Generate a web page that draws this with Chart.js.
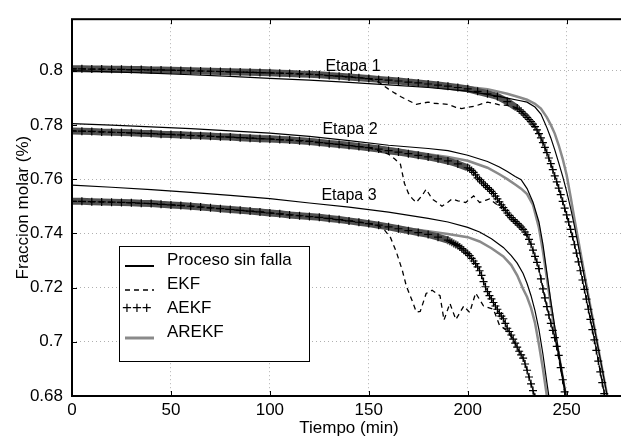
<!DOCTYPE html>
<html>
<head>
<meta charset="utf-8">
<script src="https://cdn.jsdelivr.net/npm/chart.js"></script>
<style>
  html, body { margin: 0; padding: 0; background: #fff; overflow: hidden; }
  canvas { display: block; }
</style>
</head>
<body>
<canvas id="grafico" width="632" height="443"></canvas>
<script>
// Ejes
const ticksX = [0, 50, 100, 150, 200, 250];
const ticksY = [0.68, 0.70, 0.72, 0.74, 0.76, 0.78, 0.80];

// Etiquetas de las etapas
const etiquetas = ['Etapa 1', 'Etapa 2', 'Etapa 3'];
const etiquetaT = [142, 140.5, 140];
const etiquetaV = [0.8014, 0.7782, 0.7539];

// ---- Etapa 1 ----
const tiempo1 = [0, 20, 40, 60, 80, 100, 120, 140, 160, 180, 200, 210, 220, 226, 230, 234, 237, 240, 242, 244, 246, 248, 250, 252, 254, 256, 258, 260, 262, 264, 266, 268, 270, 272];
const sinFalla1 = [0.8000, 0.7996, 0.7991, 0.7985, 0.7979, 0.7972, 0.7965, 0.7957, 0.7948, 0.7938, 0.7925, 0.7913, 0.7899, 0.7890, 0.7884, 0.7866, 0.7840, 0.7790, 0.7752, 0.7708, 0.7660, 0.7610, 0.7555, 0.7493, 0.7425, 0.7350, 0.7275, 0.7200, 0.7125, 0.7050, 0.6975, 0.6898, 0.6820, 0.6740];
const arekf1 = [0.8008, 0.8006, 0.8003, 0.7999, 0.7995, 0.7990, 0.7984, 0.7976, 0.7966, 0.7954, 0.7940, 0.7932, 0.7915, 0.7902, 0.7893, 0.7878, 0.7860, 0.7828, 0.7800, 0.7768, 0.7725, 0.7675, 0.7615, 0.7535, 0.7450, 0.7370, 0.7290, 0.7210, 0.7130, 0.7055, 0.6975, 0.6898, 0.6820, 0.6740];
const tAekf1 = [0, 5, 10, 15, 20, 25, 30, 35, 40, 45, 50, 55, 60, 65, 70, 75, 80, 85, 90, 95, 100, 105, 110, 115, 120, 125, 130, 135, 140, 145, 150, 155, 160, 165, 170, 175, 180, 185, 190, 195, 200, 205, 210, 215, 220, 225,
  226, 227, 228, 229, 230, 231, 232, 233, 234, 235, 236, 237, 238, 239, 240, 241, 242, 243, 244, 245, 246, 247, 248, 249, 250, 251, 252, 253, 254, 255, 256, 257, 258, 259, 260, 261, 262, 263, 264, 265, 266, 267, 268, 269, 270, 271];
const aekf1 = [0.8007, 0.8007, 0.8006, 0.8006, 0.8005, 0.8005, 0.8004, 0.8004, 0.8003, 0.8003, 0.8002, 0.8001, 0.8000, 0.7999, 0.7998, 0.7997, 0.7996, 0.7995, 0.7994, 0.7993, 0.7992, 0.7991, 0.7990, 0.7988, 0.7987, 0.7985, 0.7982, 0.7980, 0.7977, 0.7974, 0.7971, 0.7968, 0.7965, 0.7962, 0.7958, 0.7955, 0.7951, 0.7947, 0.7943, 0.7938, 0.7933, 0.7924, 0.7915, 0.7905, 0.7886, 0.7862,
  0.7856, 0.7850, 0.7843, 0.7836, 0.7828, 0.7820, 0.7812, 0.7803, 0.7794, 0.7782, 0.7768, 0.7752, 0.7735, 0.7717, 0.7698, 0.7678, 0.7657, 0.7635, 0.7612, 0.7590, 0.7567, 0.7543, 0.7518, 0.7493, 0.7468, 0.7442, 0.7415, 0.7388, 0.7358, 0.7327, 0.7295, 0.7262, 0.7228, 0.7193, 0.7157, 0.7120, 0.7083, 0.7045, 0.7007, 0.6968, 0.6929, 0.6889, 0.6849, 0.6809, 0.6768, 0.6727];
const tEkf1 = [0, 20, 40, 60, 80, 100, 120, 140, 150, 155, 160, 163, 166, 170, 174, 177, 180, 183, 186, 190, 194, 197, 200, 204, 207, 210, 213, 216, 220, 224, 226, 230, 234, 238, 242, 246, 250, 254, 258, 262, 266, 270, 272];
const ekf1 = [0.8007, 0.8005, 0.8003, 0.8000, 0.7996, 0.7992, 0.7987, 0.7977, 0.7971, 0.7958, 0.7932, 0.7918, 0.7905, 0.7890, 0.7876, 0.7880, 0.7884, 0.7880, 0.7878, 0.7876, 0.7865, 0.7860, 0.7865, 0.7870, 0.7878, 0.7884, 0.7880, 0.7874, 0.7872, 0.7865, 0.7856, 0.7828, 0.7794, 0.7735, 0.7657, 0.7567, 0.7468, 0.7358, 0.7228, 0.7083, 0.6929, 0.6768, 0.6686];

// ---- Etapa 2 ----
const tiempo2 = [0, 20, 40, 60, 80, 100, 120, 140, 160, 180, 190, 200, 210, 216, 220, 224, 227, 230, 233, 236, 238, 240, 242, 244, 246, 248, 250, 252];
const sinFalla2 = [0.7805, 0.7799, 0.7793, 0.7786, 0.7778, 0.7770, 0.7758, 0.7742, 0.7725, 0.7713, 0.7705, 0.7688, 0.7665, 0.7645, 0.7628, 0.7610, 0.7598, 0.7565, 0.7515, 0.7442, 0.7360, 0.7255, 0.7150, 0.7055, 0.6960, 0.6875, 0.6790, 0.6705];
const arekf2 = [0.7782, 0.7779, 0.7775, 0.7770, 0.7764, 0.7757, 0.7747, 0.7733, 0.7715, 0.7692, 0.7682, 0.7668, 0.7642, 0.7618, 0.7600, 0.7580, 0.7565, 0.7545, 0.7505, 0.7420, 0.7335, 0.7235, 0.7135, 0.7040, 0.6955, 0.6870, 0.6785, 0.6700];
const tAekf2 = [0, 5, 10, 15, 20, 25, 30, 35, 40, 45, 50, 55, 60, 65, 70, 75, 80, 85, 90, 95, 100, 105, 110, 115, 120, 125, 130, 135, 140, 145, 150, 155, 160, 165, 170, 175, 180, 185, 190, 195, 200,
  201, 202, 203, 204, 205, 206, 207, 208, 209, 210, 211, 212, 213, 214, 215, 216, 217, 218, 219, 220, 221, 222, 223, 224, 225, 226, 227, 228, 229, 230, 231, 232, 233, 234, 235, 236, 237, 238, 239, 240, 241, 242, 243, 244, 245, 246, 247, 248, 249, 250];
const aekf2 = [0.7778, 0.7777, 0.7776, 0.7774, 0.7773, 0.7772, 0.7771, 0.7769, 0.7768, 0.7766, 0.7765, 0.7763, 0.7761, 0.7760, 0.7758, 0.7756, 0.7755, 0.7753, 0.7751, 0.7749, 0.7748, 0.7746, 0.7744, 0.7742, 0.7739, 0.7735, 0.7731, 0.7728, 0.7724, 0.7720, 0.7716, 0.7711, 0.7705, 0.7700, 0.7694, 0.7688, 0.7682, 0.7675, 0.7667, 0.7656, 0.7642,
  0.7638, 0.7632, 0.7625, 0.7616, 0.7605, 0.7598, 0.7590, 0.7583, 0.7576, 0.7569, 0.7562, 0.7555, 0.7547, 0.7537, 0.7527, 0.7516, 0.7505, 0.7495, 0.7485, 0.7475, 0.7466, 0.7458, 0.7451, 0.7444, 0.7437, 0.7430, 0.7423, 0.7415, 0.7405, 0.7395, 0.7378, 0.7360, 0.7338, 0.7315, 0.7293, 0.7270, 0.7232, 0.7195, 0.7162, 0.7130, 0.7099, 0.7068, 0.7042, 0.7015, 0.6983, 0.6950, 0.6905, 0.6860, 0.6815, 0.6770];
const tEkf2 = [0, 20, 40, 60, 80, 100, 120, 140, 150, 155, 160, 163, 166, 168, 170, 172, 174, 177, 179, 182, 185, 187, 190, 192, 195, 199, 203, 206, 209, 211, 214, 216, 218, 220, 224, 228, 232, 236, 240, 244, 248, 250];
const ekf2 = [0.7778, 0.7773, 0.7768, 0.7761, 0.7755, 0.7748, 0.7739, 0.7724, 0.7716, 0.7705, 0.7692, 0.7675, 0.7655, 0.7585, 0.7548, 0.7528, 0.7514, 0.7540, 0.7563, 0.7527, 0.7512, 0.7500, 0.7515, 0.7527, 0.7520, 0.7514, 0.7538, 0.7514, 0.7522, 0.7527, 0.7510, 0.7500, 0.7495, 0.7475, 0.7444, 0.7415, 0.7360, 0.7270, 0.7130, 0.7015, 0.6860, 0.6770];

// ---- Etapa 3 ----
const tiempo3 = [0, 20, 40, 60, 80, 100, 120, 140, 160, 180, 190, 200, 206, 212, 218, 222, 225, 228, 230, 232, 234, 236, 238, 240, 242];
const sinFalla3 = [0.7578, 0.7570, 0.7561, 0.7551, 0.7540, 0.7528, 0.7512, 0.7497, 0.7478, 0.7455, 0.7442, 0.7422, 0.7405, 0.7380, 0.7348, 0.7318, 0.7290, 0.7252, 0.7215, 0.7170, 0.7115, 0.7045, 0.6955, 0.6850, 0.6750];
const arekf3 = [0.7520, 0.7516, 0.7510, 0.7503, 0.7494, 0.7483, 0.7468, 0.7450, 0.7428, 0.7408, 0.7398, 0.7386, 0.7370, 0.7345, 0.7315, 0.7283, 0.7245, 0.7195, 0.7165, 0.7125, 0.7070, 0.6990, 0.6900, 0.6800, 0.6700];
const tAekf3 = [0, 5, 10, 15, 20, 25, 30, 35, 40, 45, 50, 55, 60, 65, 70, 75, 80, 85, 90, 95, 100, 105, 110, 115, 120, 125, 130, 135, 140, 145, 150, 155, 160, 165, 170, 175, 180, 185, 190,
  191, 192, 193, 194, 195, 196, 197, 198, 199, 200, 201, 202, 203, 204, 205, 206, 207, 208, 209, 210, 211, 212, 213, 214, 215, 216, 217, 218, 219, 220, 221, 222, 223, 224, 225, 226, 227, 228, 229, 230, 231, 232, 233, 234, 235];
const aekf3 = [0.7518, 0.7518, 0.7517, 0.7516, 0.7515, 0.7514, 0.7513, 0.7511, 0.7510, 0.7507, 0.7505, 0.7503, 0.7500, 0.7497, 0.7494, 0.7491, 0.7488, 0.7485, 0.7482, 0.7479, 0.7475, 0.7472, 0.7468, 0.7465, 0.7462, 0.7459, 0.7455, 0.7451, 0.7446, 0.7441, 0.7436, 0.7430, 0.7424, 0.7417, 0.7410, 0.7403, 0.7396, 0.7386, 0.7375,
  0.7371, 0.7367, 0.7363, 0.7359, 0.7355, 0.7350, 0.7344, 0.7338, 0.7331, 0.7325, 0.7318, 0.7308, 0.7298, 0.7288, 0.7276, 0.7262, 0.7245, 0.7222, 0.7203, 0.7185, 0.7170, 0.7158, 0.7145, 0.7132, 0.7120, 0.7105, 0.7095, 0.7085, 0.7068, 0.7050, 0.7038, 0.7025, 0.7010, 0.6995, 0.6980, 0.6965, 0.6952, 0.6940, 0.6918, 0.6895, 0.6870, 0.6845, 0.6820, 0.6795, 0.6770];
const tEkf3 = [0, 20, 40, 60, 80, 100, 120, 140, 150, 155, 158, 161, 164, 167, 169, 172, 174, 176, 179, 182, 186, 188, 191, 194, 198, 201, 204, 208, 213, 216, 220, 223, 226, 228, 230, 232, 234, 235];
const ekf3 = [0.7518, 0.7515, 0.7510, 0.7500, 0.7488, 0.7475, 0.7462, 0.7446, 0.7436, 0.7428, 0.7412, 0.7384, 0.7330, 0.7262, 0.7205, 0.7150, 0.7110, 0.7112, 0.7178, 0.7190, 0.7170, 0.7080, 0.7142, 0.7082, 0.7132, 0.7108, 0.7180, 0.7132, 0.7120, 0.7062, 0.7040, 0.7008, 0.6965, 0.6940, 0.6895, 0.6845, 0.6795, 0.6770];

const fuente = '"Liberation Sans", Arial, Helvetica, sans-serif';

function puntos(t, v) {
  return t.map((x, i) => ({ x: x, y: v[i] }));
}

// estilos de cada tipo de curva
function sinFalla(t, v) {
  return { label: 'Proceso sin falla', data: puntos(t, v), borderColor: '#000', borderWidth: 1.2, pointRadius: 0, muestra: 2 };
}
function ekf(t, v) {
  return { label: 'EKF', data: puntos(t, v), borderColor: '#000', borderWidth: 1.3, borderDash: [5, 4], pointRadius: 0, muestra: 1.5 };
}
function aekf(t, v, banda) {
  // las cruces muy juntas forman una banda gruesa en el tramo plano
  return {
    label: 'AEKF', data: puntos(t, v), borderColor: '#000', borderWidth: 1,
    pointStyle: 'cross', pointRadius: 4, pointBorderColor: '#000', pointBorderWidth: 1.2,
    segment: {
      borderWidth: c => c.p1.parsed.x <= banda ? 7 : 1,
      borderColor: c => c.p1.parsed.x <= banda ? '#505050' : '#000'
    }
  };
}
function arekf(t, v) {
  return { label: 'AREKF', data: puntos(t, v), borderColor: '#8a8a8a', borderWidth: 2.5, pointRadius: 0, muestra: 3 };
}

const datasets = [
  sinFalla(tiempo1, sinFalla1), ekf(tEkf1, ekf1), aekf(tAekf1, aekf1, 225), arekf(tiempo1, arekf1),
  sinFalla(tiempo2, sinFalla2), ekf(tEkf2, ekf2), aekf(tAekf2, aekf2, 200), arekf(tiempo2, arekf2),
  sinFalla(tiempo3, sinFalla3), ekf(tEkf3, ekf3), aekf(tAekf3, aekf3, 190), arekf(tiempo3, arekf3)
];
datasets.forEach(d => { d.fill = false; d.tension = 0; d.clip = 0; });

// marco de ejes con marcas hacia adentro
const marco = {
  id: 'marco',
  afterDatasetsDraw(chart) {
    const { ctx, chartArea: a, scales: { x, y } } = chart;
    ctx.save();
    ctx.strokeStyle = '#000';
    ctx.lineWidth = 1;
    ctx.beginPath();
    ticksX.forEach(v => {
      const px = Math.round(x.getPixelForValue(v)) + 0.5;
      ctx.moveTo(px, a.bottom); ctx.lineTo(px, a.bottom - 5);
      ctx.moveTo(px, a.top); ctx.lineTo(px, a.top + 5);
    });
    ticksY.forEach(v => {
      const py = Math.round(y.getPixelForValue(v)) + 0.5;
      ctx.moveTo(a.left, py); ctx.lineTo(a.left + 5, py);
      ctx.moveTo(a.right, py); ctx.lineTo(a.right - 5, py);
    });
    ctx.stroke();
    ctx.lineWidth = 2;
    ctx.strokeRect(a.left, a.top, a.right - a.left, a.bottom - a.top);
    ctx.restore();
  }
};

const textosEtapa = {
  id: 'textosEtapa',
  afterDatasetsDraw(chart) {
    const { ctx, scales: { x, y } } = chart;
    ctx.save();
    ctx.font = '16px ' + fuente;
    ctx.fillStyle = '#000';
    ctx.textAlign = 'center';
    ctx.textBaseline = 'middle';
    etiquetas.forEach((txt, i) => ctx.fillText(txt, x.getPixelForValue(etiquetaT[i]), y.getPixelForValue(etiquetaV[i])));
    ctx.restore();
  }
};

// leyenda dentro del área de trazado
const leyenda = {
  id: 'leyenda',
  afterDatasetsDraw(chart) {
    const ctx = chart.ctx;
    const ds = chart.data.datasets;
    ctx.save();
    ctx.fillStyle = '#fff';
    ctx.fillRect(119, 246, 191, 116);
    ctx.strokeStyle = '#000';
    ctx.lineWidth = 1;
    ctx.strokeRect(119.5, 246.5, 190, 115);
    ctx.font = '17px ' + fuente;
    ctx.textBaseline = 'middle';
    ctx.textAlign = 'left';
    for (let i = 0; i < 4; i++) {
      const d = ds[i];
      const yc = 260 + i * 24;
      ctx.fillStyle = '#000';
      ctx.fillText(d.label, 167, yc);
      if (d.pointStyle === 'cross') {
        ctx.fillText('+++', 122, yc);
        continue;
      }
      ctx.strokeStyle = d.borderColor;
      ctx.lineWidth = d.muestra;
      ctx.setLineDash(d.borderDash || []);
      ctx.beginPath();
      ctx.moveTo(125, yc + 6);
      ctx.lineTo(154, yc + 6);
      ctx.stroke();
      ctx.setLineDash([]);
    }
    ctx.restore();
  }
};

new Chart(document.getElementById('grafico'), {
  type: 'line',
  data: { datasets: datasets },
  options: {
    responsive: false,
    animation: false,
    layout: { padding: { top: 8, right: 6, left: 0, bottom: 0 } },
    plugins: { legend: { display: false }, tooltip: { enabled: false } },
    scales: {
      x: {
        type: 'linear', min: 0, max: 280,
        afterFit: s => { s.height = 47; },
        afterBuildTicks: s => { s.ticks = ticksX.map(v => ({ value: v })); },
        grid: { color: '#b0b0b0', lineWidth: 1, drawTicks: false },
        border: { display: false, dash: [1, 3] },
        ticks: { color: '#000', font: { family: fuente, size: 17 }, padding: 4, maxRotation: 0 },
        title: { display: true, text: 'Tiempo (min)', color: '#000', font: { family: fuente, size: 17 }, padding: { top: 0, bottom: 4 } }
      },
      y: {
        type: 'linear', min: 0.68, max: 0.819,
        afterFit: s => { s.width = 72; },
        afterBuildTicks: s => { s.ticks = ticksY.map(v => ({ value: v })); },
        grid: { color: '#b0b0b0', lineWidth: 1, drawTicks: false },
        border: { display: false, dash: [1, 3] },
        ticks: { color: '#000', font: { family: fuente, size: 17 }, padding: 9, callback: v => String(+v.toFixed(2)) },
        title: { display: true, text: 'Fraccion molar (%)', color: '#000', font: { family: fuente, size: 17 }, padding: { top: 13, bottom: 0 } }
      }
    }
  },
  plugins: [marco, textosEtapa, leyenda]
});
</script>
</body>
</html>
